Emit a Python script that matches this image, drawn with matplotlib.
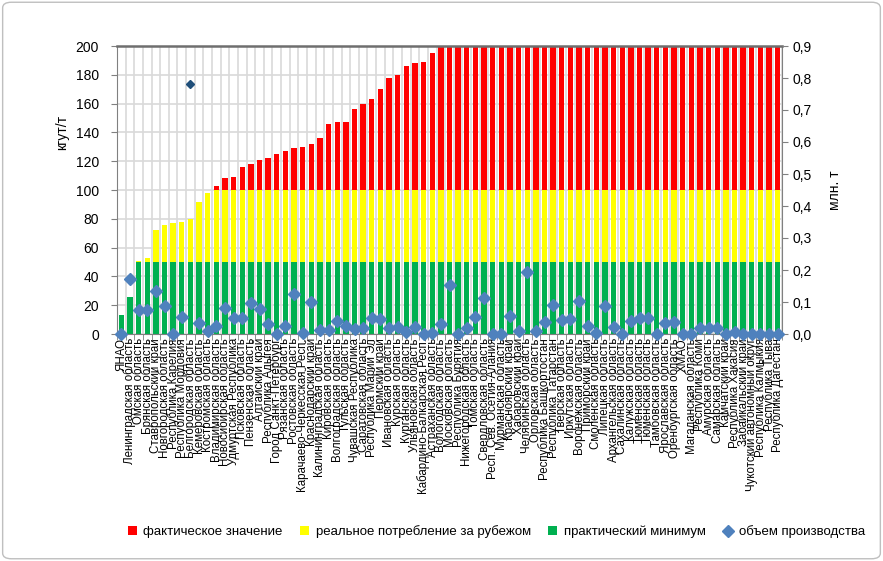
import matplotlib

matplotlib.use("Agg")

import matplotlib.pyplot as plt
import numpy as np
from matplotlib.lines import Line2D
from matplotlib.patches import FancyBboxPatch, Patch
from matplotlib.ticker import FixedLocator, FuncFormatter

plt.rcParams["font.family"] = ["Liberation Sans", "DejaVu Sans"]

# регионы в порядке возрастания удельного показателя
regions = [
    "ЯНАО", "Ленинградская область", "Омская область", "Брянская область",
    "Ставропольский край", "Новгородская область", "Республика Карелия",
    "Республика Мордовия", "Белгородская область", "Кемеровская область",
    "Костромская область", "Владимирская область", "Новосибирская область",
    "Удмуртская Республика", "Псковская область", "Пензенская область",
    "Алтайский край", "Республика Адыгея", "Город Санкт-Петербург",
    "Рязанская область", "Ростовская область", "Карачаево-Черкесская Респ.",
    "Краснодарский край", "Калининградская область", "Кировская область",
    "Волгоградская область", "Тульская область", "Чувашская Республика",
    "Саратовская область", "Республика Марий Эл", "Пермский край",
    "Ивановская область", "Курская область", "Курганская область",
    "Ульяновская область", "Кабардино-Балкарская Респ.", "Астраханская область",
    "Вологодская область", "Московская область", "Республика Бурятия",
    "Нижегородская область", "Томская область", "Свердловская область",
    "Респ. Сев. Осетия-Алания", "Мурманская область", "Красноярский край",
    "Хабаровский край", "Челябинская область", "Орловская область",
    "Республика Башкортостан", "Республика Татарстан", "Тверская область",
    "Иркутская область", "Воронежская область", "Приморский край",
    "Смоленская область", "Липецкая область", "Архангельская область",
    "Сахалинская область", "Калужская область", "Тюменская область",
    "Тюменская область", "Тамбовская область", "Ярославская область",
    "Оренбургская область", "ХМАО", "Магаданская область", "Республика Коми",
    "Амурская область", "Самарская область", "Камчатский край",
    "Республика Хакасия", "Забайкальский край", "Чукотский автономный округ",
    "Республика Калмыкия", "Республика Тыва", "Республика Дагестан",
]

# фактическое значение, кгут/т (на графике обрезано по 200)
actual = [
    13, 26, 51, 53, 72, 76, 77, 77.5, 80, 92, 98, 103, 108, 109, 116, 118,
    121, 122, 125, 127, 129, 130, 132, 136, 146, 147, 147, 156, 160, 163,
    170, 178, 180, 186, 188, 189, 195, 200, 200, 200, 200, 200, 200, 200,
    200, 200, 200, 200, 200, 200, 200, 200, 200, 200, 200, 200, 200, 200,
    200, 200, 200, 200, 200, 200, 200, 200, 200, 200, 200, 200, 200, 200,
    200, 200, 200, 200, 200,
]

# объем производства, млн. т
volume = [
    0.0, 0.172, 0.075, 0.075, 0.135, 0.089, 0.0, 0.052, 0.782, 0.033,
    0.008, 0.024, 0.081, 0.050, 0.050, 0.096, 0.077, 0.031, 0.0, 0.026,
    0.125, 0.002, 0.101, 0.013, 0.014, 0.042, 0.026, 0.015, 0.018, 0.050,
    0.047, 0.018, 0.021, 0.007, 0.021, 0.0, 0.002, 0.031, 0.152, 0.0,
    0.020, 0.054, 0.113, 0.0, 0.0, 0.055, 0.008, 0.193, 0.010, 0.036,
    0.091, 0.044, 0.047, 0.104, 0.026, 0.002, 0.088, 0.021, 0.0, 0.040,
    0.050, 0.049, 0.0, 0.034, 0.036, 0.0, 0.0, 0.018, 0.020, 0.020,
    0.0, 0.007, 0.0, 0.0, 0.0, 0.0, 0.0,
]
highlight_idx = 8  # выделенная точка (Белгородская область)

practical_min = 50
abroad_level = 100
y_max = 200

RED, YELLOW, GREEN, BLUE = "#FF0000", "#FFFF00", "#00B050", "#4F81BD"

vals = np.minimum(np.array(actual, dtype=float), y_max)
green = np.minimum(vals, practical_min)
yellow = np.clip(vals - practical_min, 0, abroad_level - practical_min)
red = np.clip(vals - abroad_level, 0, None)
x = np.arange(len(regions))

fig = plt.figure(figsize=(8.83, 5.61), dpi=100)
fig.patches.append(FancyBboxPatch(
    (0.003, 0.004), 0.994, 0.992, boxstyle="round,pad=0,rounding_size=0.01",
    transform=fig.transFigure, fill=False, edgecolor="#BFBFBF", linewidth=1,
))
ax = fig.add_axes([117 / 883, 1 - 334 / 561, 665 / 883, 288 / 561])

w = 0.62
ax.bar(x, green, width=w, color=GREEN, zorder=2)
ax.bar(x, yellow, width=w, bottom=green, color=YELLOW, zorder=2)
ax.bar(x, red, width=w, bottom=green + yellow, color=RED, zorder=2)

ax.set_xlim(-0.5, len(regions) - 0.5)
ax.set_ylim(0, y_max)
ax.set_yticks(np.arange(0, 201, 20))
ax.set_xticks(x)
ax.set_xticklabels(regions, rotation=90, fontsize=8.3)
ax.xaxis.set_minor_locator(FixedLocator(np.arange(-0.5, len(regions), 1)))
ax.tick_params(axis="x", which="major", length=0, pad=3)
ax.tick_params(axis="x", which="minor", length=4, color="#808080")
ax.tick_params(axis="y", length=4, color="#808080", labelsize=10, pad=9)
ax.grid(axis="y", color="#D9D9D9", linewidth=1.2, zorder=0)
ax.grid(axis="x", which="minor", color="#D9D9D9", linewidth=1.2, zorder=0)
ax.set_axisbelow(True)

for side in ("left", "bottom", "right"):
    ax.spines[side].set_color("#808080")
ax.spines["top"].set_color("#6E6E6E")
ax.spines["top"].set_linewidth(1.8)

ax.set_ylabel("кгут/т", fontsize=10)
ax.yaxis.set_label_coords(-0.072, 0.70)

ax2 = ax.twinx()
ax2.set_ylim(0, 0.9)
ax2.set_yticks(np.arange(0, 0.91, 0.1))
ax2.yaxis.set_major_formatter(FuncFormatter(lambda v, p: f"{v:.1f}".replace(".", ",")))
ax2.tick_params(axis="y", length=4, color="#808080", labelsize=10)
for side in ("left", "bottom", "right", "top"):
    ax2.spines[side].set_visible(False)
ax2.set_ylabel("млн. т", fontsize=10)
ax2.yaxis.set_label_coords(1.069, 0.5)

vol = np.array(volume)
mask = np.arange(len(vol)) != highlight_idx
ax2.plot(x[mask], vol[mask], linestyle="none", marker="D", markersize=6.5,
         color=BLUE, clip_on=False, zorder=3)
ax2.plot(x[highlight_idx], vol[highlight_idx], linestyle="none", marker="D",
         markersize=4.5, color="#1F4E79", clip_on=False, zorder=3)

handles = [
    Patch(facecolor=RED, label="фактическое значение"),
    Patch(facecolor=YELLOW, label="реальное потребление за рубежом"),
    Patch(facecolor=GREEN, label="практический минимум"),
    Line2D([], [], linestyle="none", marker="D", markersize=6, color=BLUE,
           label="объем производства"),
]
fig.legend(handles=handles, loc="center", bbox_to_anchor=(0.562, 0.052), ncol=4,
           frameon=False, fontsize=9.5, handlelength=0.7, handleheight=0.7,
           handletextpad=0.5, columnspacing=1.3)

fig.savefig("out.png", dpi=100)
